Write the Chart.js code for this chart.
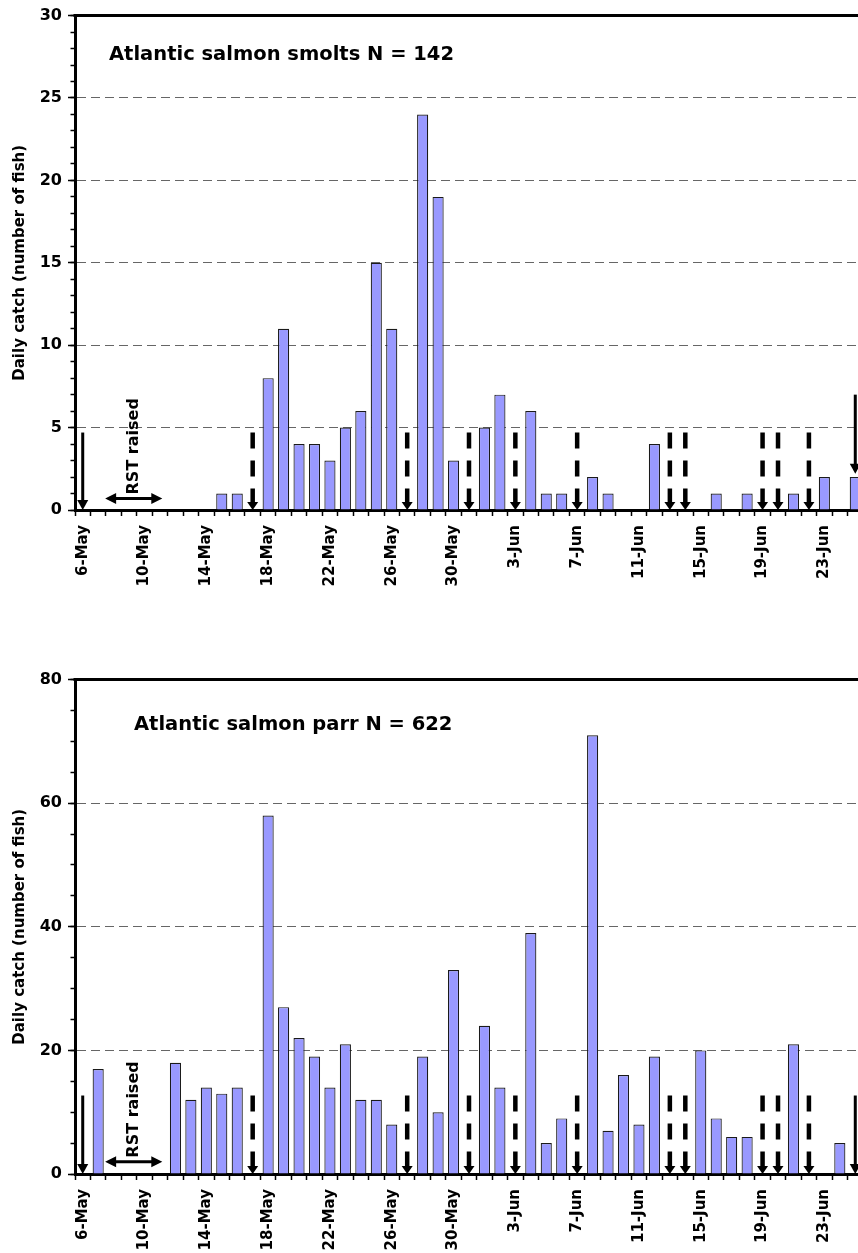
<!DOCTYPE html>
<html>
<head>
<meta charset="utf-8">
<script src="https://cdn.jsdelivr.net/npm/chart.js@4.4.0/dist/chart.umd.min.js"></script>
<style>
  html, body { margin: 0; padding: 0; background: #fff; overflow: hidden; width: 858px; height: 1253px; }
  canvas { position: absolute; left: 0; }
  #smolts { top: 0; }
  #parr { top: 664px; }
</style>
</head>
<body>
<canvas id="smolts" width="870" height="600"></canvas>
<canvas id="parr" width="870" height="600"></canvas>
<script>
// days of the trapping season
var days = ['6-May', '7-May', '8-May', '9-May', '10-May', '11-May', '12-May', '13-May', '14-May', '15-May',
  '16-May', '17-May', '18-May', '19-May', '20-May', '21-May', '22-May', '23-May', '24-May', '25-May',
  '26-May', '27-May', '28-May', '29-May', '30-May', '31-May', '1-Jun', '2-Jun', '3-Jun', '4-Jun',
  '5-Jun', '6-Jun', '7-Jun', '8-Jun', '9-Jun', '10-Jun', '11-Jun', '12-Jun', '13-Jun', '14-Jun',
  '15-Jun', '16-Jun', '17-Jun', '18-Jun', '19-Jun', '20-Jun', '21-Jun', '22-Jun', '23-Jun', '24-Jun',
  '25-Jun'];

// daily catch
var smoltCatch = [0, 0, 0, 0, 0, 0, 0, 0, 0, 1,
  1, 0, 8, 11, 4, 4, 3, 5, 6, 15,
  11, 0, 24, 19, 3, 0, 5, 7, 0, 6,
  1, 1, 0, 2, 1, 0, 0, 4, 0, 0,
  0, 1, 0, 1, 0, 0, 1, 0, 2, 0,
  2];
var parrCatch = [0, 17, 0, 0, 0, 0, 18, 12, 14, 13,
  14, 0, 58, 27, 22, 19, 14, 21, 12, 12,
  8, 0, 19, 10, 33, 0, 24, 14, 0, 39,
  5, 9, 0, 71, 7, 16, 8, 19, 0, 0,
  20, 9, 6, 6, 0, 0, 21, 0, 0, 5,
  0];

// markers
var trapDays = ['6-May', '25-Jun'];          // solid arrows
var checkDays = ['17-May', '27-May', '31-May', '3-Jun', '7-Jun', '13-Jun', '14-Jun', '19-Jun', '20-Jun', '22-Jun']; // dashed arrows
var smoltTrapTop = [4.7, 7], smoltTrapTip = [0, 2.2];
var parrTrapTop = [12.7, 12.7], parrTrapTip = [0, 0];
var smoltCheckTop = 4.7, parrCheckTop = 12.7;
var rstSpan = [1.45, 5.15];                  // in day-index units
var smoltRstLevel = 0.7, parrRstLevel = 2;

var FONT = 'DejaVu Sans';

function arrow(ctx, px, yTop, yTip, dashed) {
  var head = dashed ? 8 : 10, half = 5.5;
  ctx.beginPath();
  ctx.setLineDash(dashed ? [16, 12] : []);
  ctx.lineWidth = dashed ? 4.5 : 3;
  ctx.moveTo(px, yTop);
  ctx.lineTo(px, yTip - head + 1);
  ctx.stroke();
  ctx.setLineDash([]);
  ctx.beginPath();
  ctx.moveTo(px - half, yTip - head);
  ctx.lineTo(px + half, yTip - head);
  ctx.lineTo(px, yTip);
  ctx.closePath();
  ctx.fill();
}

var markers = {
  id: 'markers',
  afterDatasetsDraw: function(chart, args, o) {
    var ctx = chart.ctx, x = chart.scales.x, y = chart.scales.y, area = chart.chartArea;
    ctx.save();
    ctx.strokeStyle = '#000';
    ctx.fillStyle = '#000';
    // frame top and right
    ctx.lineWidth = 3;
    ctx.beginPath();
    ctx.moveTo(area.left - 1.5, area.top);
    ctx.lineTo(area.right, area.top);
    ctx.lineTo(area.right, area.bottom);
    ctx.stroke();

    trapDays.forEach(function(d, i) {
      arrow(ctx, x.getPixelForValue(days.indexOf(d)), y.getPixelForValue(o.trapTop[i]), y.getPixelForValue(o.trapTip[i]), false);
    });
    checkDays.forEach(function(d) {
      arrow(ctx, x.getPixelForValue(days.indexOf(d)), y.getPixelForValue(o.checkTop), y.getPixelForValue(0), true);
    });

    // RST raised double arrow
    var x1 = x.getPixelForValue(rstSpan[0]), x2 = x.getPixelForValue(rstSpan[1]);
    var yy = y.getPixelForValue(o.rstLevel);
    ctx.lineWidth = 3;
    ctx.beginPath();
    ctx.moveTo(x1 + 9, yy);
    ctx.lineTo(x2 - 9, yy);
    ctx.stroke();
    ctx.beginPath();
    ctx.moveTo(x1, yy); ctx.lineTo(x1 + 11, yy - 5.5); ctx.lineTo(x1 + 11, yy + 5.5); ctx.closePath();
    ctx.moveTo(x2, yy); ctx.lineTo(x2 - 11, yy - 5.5); ctx.lineTo(x2 - 11, yy + 5.5); ctx.closePath();
    ctx.fill();

    ctx.save();
    ctx.translate((x1 + x2) / 2, yy - 4);
    ctx.rotate(-Math.PI / 2);
    ctx.font = 'bold 16px "' + FONT + '"';
    ctx.textAlign = 'left';
    ctx.textBaseline = 'middle';
    ctx.fillText('RST raised', 0, 0);
    ctx.restore();

    // panel title
    ctx.font = 'bold 19.5px "' + FONT + '"';
    ctx.textAlign = 'left';
    ctx.textBaseline = 'middle';
    ctx.fillText(o.title, area.left + o.titleDx, area.top + o.titleDy);
    ctx.restore();
  }
};

function makeChart(id, values, yMax, labelStep, minorStep, mk) {
  return new Chart(document.getElementById(id), {
    type: 'bar',
    data: {
      labels: days,
      datasets: [{
        data: values,
        backgroundColor: '#9999ff',
        borderColor: '#1a1a1a',
        borderWidth: 1.2,
        barPercentage: 0.72,
        categoryPercentage: 1
      }]
    },
    options: {
      responsive: false,
      animation: false,
      layout: { padding: { top: 12, right: 7, left: 0, bottom: 0 } },
      plugins: {
        legend: { display: false },
        tooltip: { enabled: false },
        markers: mk
      },
      scales: {
        x: {
          offset: true,
          grid: { offset: true, drawOnChartArea: false, tickLength: 6, tickColor: '#000', tickWidth: 1.5 },
          border: { color: '#000', width: 3 },
          ticks: {
            autoSkip: false, minRotation: 90, maxRotation: 90, padding: 9, color: '#000',
            font: { family: FONT, weight: 'bold', size: 15 },
            callback: function(v, i) { return i % 4 === 0 ? days[i] : ''; }
          },
          afterFit: function(s) { s.height = 90; s.paddingLeft = 0; s.paddingRight = 0; }
        },
        y: {
          min: 0, max: yMax, weight: 1,
          ticks: { stepSize: labelStep, padding: 6, color: '#000', autoSkip: false,
            font: { family: FONT, weight: 'bold', size: 16 } },
          grid: {
            color: function(c) { return (c.tick && c.tick.value > 0 && c.tick.value < yMax) ? '#666666' : 'rgba(0,0,0,0)'; },
            lineWidth: 1, tickLength: 7, tickColor: '#000', tickWidth: 1.5
          },
          border: { color: '#000', width: 3, dash: [9, 5] },
          title: { display: true, text: 'Daily catch (number of fish)', color: '#000',
            font: { family: FONT, weight: 'bold', size: 15 }, padding: { top: 11, bottom: 0 } },
          afterFit: function(s) { s.width = 75; }
        },
        y2: {
          axis: 'y', position: 'left', min: 0, max: yMax, weight: 0,
          ticks: { display: false, stepSize: minorStep },
          grid: { drawOnChartArea: false, tickLength: 4.5, tickColor: '#000', tickWidth: 1.5 },
          border: { display: false },
          afterFit: function(s) { s.width = 0; }
        }
      }
    },
    plugins: [markers]
  });
}

makeChart('smolts', smoltCatch, 30, 5, 1, {
  trapTop: smoltTrapTop, trapTip: smoltTrapTip, checkTop: smoltCheckTop, rstLevel: smoltRstLevel,
  title: 'Atlantic salmon smolts N = 142', titleDx: 34, titleDy: 39
});
makeChart('parr', parrCatch, 80, 20, 5, {
  trapTop: parrTrapTop, trapTip: parrTrapTip, checkTop: parrCheckTop, rstLevel: parrRstLevel,
  title: 'Atlantic salmon parr N = 622', titleDx: 59, titleDy: 45
});
</script>
</body>
</html>
